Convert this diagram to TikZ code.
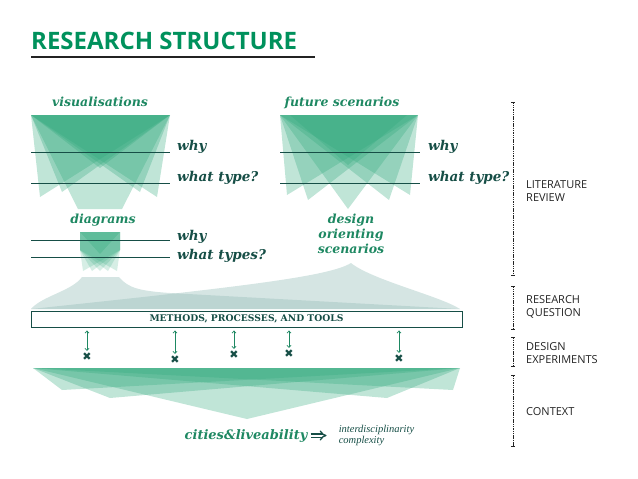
\documentclass[tikz,border=0pt]{standalone}
\usepackage{fontspec}
\setsansfont{Open Sans}
\newfontfamily\losa{DejaVu Serif}
\newfontfamily\fina{Liberation Serif}
\newfontfamily\simbolos{DejaVu Sans}
\usepackage{tikz}
\usetikzlibrary{positioning,arrows.meta,calc}
\definecolor{titulo}{RGB}{0,145,92}
\definecolor{verde}{RGB}{30,136,98}
\definecolor{relleno}{RGB}{48,168,124}
\definecolor{oscuro}{RGB}{22,78,70}
\definecolor{gris}{RGB}{150,190,185}
\definecolor{negro}{RGB}{35,35,35}

\begin{document}
\begin{tikzpicture}[x=1pt, y=-1pt,
  capa/.style={fill=relleno, fill opacity=0.3},
  capagris/.style={fill=gris, fill opacity=0.4},
  rotulo/.style={font=\losa\bfseries\itshape\fontsize{12.5}{15}\selectfont,
    text=verde, inner sep=0pt, align=center},
  pregunta/.style={font=\losa\bfseries\itshape\fontsize{13.5}{13}\selectfont,
    text=oscuro, inner sep=0pt, anchor=base west},
  linea/.style={draw=oscuro, line width=0.8pt},
  seccion/.style={font=\sffamily\fontsize{11}{13}\selectfont, align=left,
    anchor=west, inner sep=0pt, text=negro},
  tramo/.style={draw=negro, line width=0.5pt, dash pattern=on 1.5pt off 0.8pt,
    {Bar[width=3.5pt]}-{Bar[width=3.5pt]}},
  flecha/.style={draw=verde, line width=0.7pt, shorten >=2pt,
    {Straight Barb[length=2.2pt,width=4pt]}-{Straight Barb[length=2.2pt,width=4pt]}},
  marca/.style={font=\simbolos\fontsize{11}{11}\selectfont, text=oscuro, inner sep=0pt},
  implica/.style={draw=oscuro, line width=1.3pt, double, double distance=2pt,
    -{Implies}, shorten <=3pt, shorten >=12pt}
]
\useasboundingbox (0,0) rectangle (638,479);

% titulo
\node[font=\sffamily\bfseries\fontsize{24}{24}\selectfont, text=titulo,
  anchor=base west, inner sep=0pt] (titulo) at (31,49) {RESEARCH STRUCTURE};
\draw[negro, line width=2pt] (31,57) -- (315,57);

% pregunta de investigacion (formas grises)
\fill[capagris] (82,277) -- (119,277) .. controls (128,288) and (140,291) .. (170,293)
  -- (460,309) -- (31,309) .. controls (42,296) and (72,291) .. cycle;
\fill[capagris] (351,263) .. controls (330,276) and (250,286) .. (31,309)
  -- (460,309) .. controls (440,296) and (372,280) .. cycle;

% visualisations
\node[rotulo, anchor=base] (visual) at (100,106) {visualisations};
\fill[capa] (31,115) -- (170,115) -- (100,168) -- cycle;
\fill[capa] (31,115) -- (170,115) -- (122,209) -- (78,209) -- cycle;
\foreach \ax/\ay in {40/197, 62/192, 140/192, 157/197}
  \fill[capa] (31,115) -- (170,115) -- (\ax,\ay) -- cycle;
\draw[linea] (31,152) -- (170,152);
\draw[linea] (31,183) -- (170,183);
\node[pregunta] (vpor) at (177,150) {why};
\node[pregunta] (vtipo) at (177,181) {what type?};

% future scenarios
\node[rotulo, anchor=base] (futuro) at (342,106) {future scenarios};
\fill[capa] (280,115) -- (418,115) -- (348,209) -- cycle;
\fill[capa] (290,115) -- (407,115) -- (348,165) -- cycle;
\foreach \ax/\ay in {287/195, 308/200, 389/200, 410/195}
  \fill[capa] (280,115) -- (418,115) -- (\ax,\ay) -- cycle;
\draw[linea] (280,152) -- (420,152);
\draw[linea] (280,183) -- (420,183);
\node[pregunta] (fpor) at (428,150) {why};
\node[pregunta] (ftipo) at (428,181) {what type?};

% diagrams
\node[rotulo, anchor=base] (diagramas) at (103,223) {diagrams};
\fill[capa] (80,232) -- (120,232) -- (100,254) -- cycle;
\foreach \ax in {83,92,100,108,117}
  \fill[capa, fill opacity=0.2] (80,232) -- (120,232) -- (120,250) -- (\ax,271) -- (80,250) -- cycle;
\draw[linea] (31,240) -- (170,240);
\draw[linea] (31,257) -- (170,257);
\node[pregunta] (dpor) at (177,240) {why};
\node[pregunta] (dtipo) at (177,259) {what types?};

% design orienting scenarios
\node[rotulo, anchor=north] (orientados) at (351,214) {design\\orienting\\scenarios};

% metodos
\node[draw=oscuro, line width=0.9pt, fill=white, minimum width=431pt, minimum height=16pt,
  inner sep=0pt, font=\losa\bfseries\fontsize{9.2}{9}\selectfont, text=oscuro]
  (caja) at (246.5,319) {METHODS, PROCESSES, AND TOOLS};

% experimentos
\node[marca] (m1) at (87,357) {✖};
\node[marca] (m2) at (175,360) {✖};
\node[marca] (m3) at (234,355) {✖};
\node[marca] (m4) at (289,354) {✖};
\node[marca] (m5) at (399,359) {✖};
\foreach \m in {m1,m2,m3,m4,m5}
  \draw[flecha] ($(caja.south -| \m)+(0,3)$) -- (\m.north);

% contexto
\fill[capa] (33,368) -- (460,368) -- (247,419) -- cycle;
\foreach \ax/\ay in {62/390, 110/398, 387/398, 453/390}
  \fill[capa] (33,368) -- (460,368) -- (\ax,\ay) -- cycle;
\node[rotulo, font=\losa\bfseries\itshape\fontsize{13}{13}\selectfont, anchor=base]
  (ciudades) at (246,439) {cities\&liveability};
\node[font=\fina\itshape\fontsize{10.5}{11.5}\selectfont, text=oscuro, align=left,
  inner sep=0pt, right=31pt of ciudades] (disciplinas) {interdisciplinarity\\complexity};
\draw[implica] (ciudades) -- (disciplinas);

% tramos de la derecha
\draw[tramo] (513,102) -- (513,275);
\draw[tramo] (513,286) -- (513,329);
\draw[tramo] (513,337) -- (513,366);
\draw[tramo] (513,375) -- (513,446);
\node[seccion] (literatura) at (526,191) {LITERATURE\\REVIEW};
\node[seccion] (pregunta) at (526,307) {RESEARCH\\QUESTION};
\node[seccion] (experimentos) at (526,353) {DESIGN\\EXPERIMENTS};
\node[seccion] (contexto) at (526,412) {CONTEXT};
\end{tikzpicture}
\end{document}
